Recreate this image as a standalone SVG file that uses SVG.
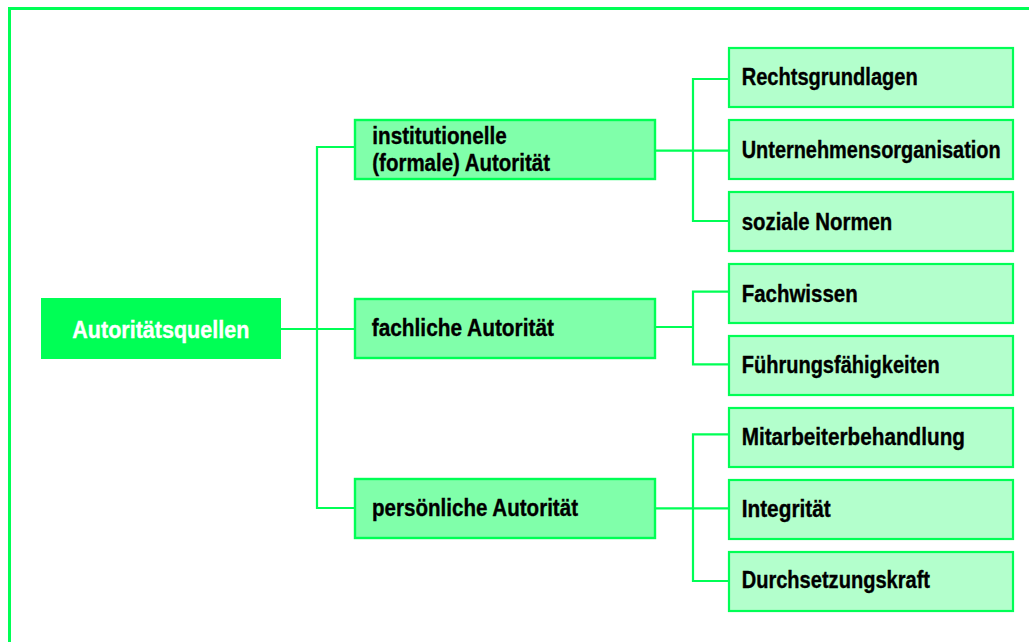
<svg xmlns="http://www.w3.org/2000/svg" width="1029" height="642" viewBox="0 0 1029 642">
  <style>
    .frame { fill: none; stroke: #00ff55; stroke-width: 3; }
    .link { fill: none; stroke: #00ff55; stroke-width: 2.2; }
    .root rect { fill: #00ff55; }
    .mid rect { fill: #80ffaa; stroke: #00ff55; stroke-width: 2.4; }
    .leaf rect { fill: #b3ffcc; stroke: #00ff55; stroke-width: 2.2; }
    text { font-family: "Liberation Sans", Arial, sans-serif; font-weight: bold; font-size: 23px; fill: #000; stroke: #000; stroke-width: 0.35; }
    .root text { fill: #fff; stroke: #fff; }
  </style>

  <!-- outer frame: top and left edges only -->
  <path class="frame" d="M9.5 642 V8.5 H1029"/>

  <g id="connectors">
    <path class="link" d="M281 329 H354"/>
    <path class="link" d="M354 147 H317 V508 H354"/>
    <path class="link" d="M656 150.7 H728 M728 79 H693 V221 H728"/>
    <path class="link" d="M656 327 H693 M728 291.7 H693 V364.3 H728"/>
    <path class="link" d="M656 508.3 H728 M728 434.3 H693 V581 H728"/>
  </g>

  <g id="autoritaetsquellen" class="root">
    <rect x="41" y="298" width="240" height="61"/>
    <text x="72.3" y="337.5" textLength="177" lengthAdjust="spacingAndGlyphs">Autoritätsquellen</text>
  </g>

  <g id="institutionelle" class="mid">
    <rect x="355" y="120" width="300" height="59"/>
    <text x="372.3" y="144" textLength="134.4" lengthAdjust="spacingAndGlyphs">institutionelle</text>
    <text x="372.3" y="170.7" textLength="177.7" lengthAdjust="spacingAndGlyphs">(formale) Autorität</text>
  </g>
  <g id="fachliche" class="mid">
    <rect x="355" y="299" width="300" height="59"/>
    <text x="371.7" y="336" textLength="182.3" lengthAdjust="spacingAndGlyphs">fachliche Autorität</text>
  </g>
  <g id="persoenliche" class="mid">
    <rect x="355" y="479" width="300" height="59"/>
    <text x="372" y="516" textLength="206" lengthAdjust="spacingAndGlyphs">persönliche Autorität</text>
  </g>

  <g id="rechtsgrundlagen" class="leaf">
    <rect x="729" y="48" width="284" height="59"/>
    <text x="741.7" y="85" textLength="176" lengthAdjust="spacingAndGlyphs">Rechtsgrundlagen</text>
  </g>
  <g id="unternehmensorganisation" class="leaf">
    <rect x="729" y="120" width="284" height="59"/>
    <text x="741.7" y="157.5" textLength="259" lengthAdjust="spacingAndGlyphs">Unternehmensorganisation</text>
  </g>
  <g id="soziale-normen" class="leaf">
    <rect x="729" y="192" width="284" height="59"/>
    <text x="741.7" y="229.5" textLength="150.6" lengthAdjust="spacingAndGlyphs">soziale Normen</text>
  </g>
  <g id="fachwissen" class="leaf">
    <rect x="729" y="264" width="284" height="59"/>
    <text x="741.7" y="301.5" textLength="116" lengthAdjust="spacingAndGlyphs">Fachwissen</text>
  </g>
  <g id="fuehrungsfaehigkeiten" class="leaf">
    <rect x="729" y="336" width="284" height="59"/>
    <text x="741.7" y="373" textLength="198" lengthAdjust="spacingAndGlyphs">Führungsfähigkeiten</text>
  </g>
  <g id="mitarbeiterbehandlung" class="leaf">
    <rect x="729" y="408" width="284" height="59"/>
    <text x="741.7" y="445" textLength="223.3" lengthAdjust="spacingAndGlyphs">Mitarbeiterbehandlung</text>
  </g>
  <g id="integritaet" class="leaf">
    <rect x="729" y="480" width="284" height="59"/>
    <text x="741.7" y="516.7" textLength="89" lengthAdjust="spacingAndGlyphs">Integrität</text>
  </g>
  <g id="durchsetzungskraft" class="leaf">
    <rect x="729" y="552" width="284" height="59"/>
    <text x="741.7" y="588.3" textLength="188.3" lengthAdjust="spacingAndGlyphs">Durchsetzungskraft</text>
  </g>
</svg>
